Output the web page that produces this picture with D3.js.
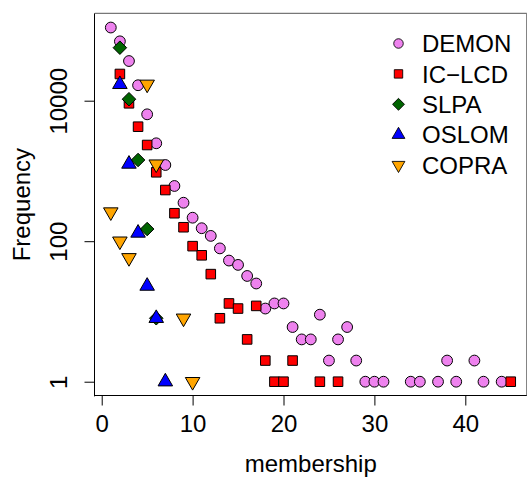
<!DOCTYPE html>
<html>
<head>
<meta charset="utf-8">
<script src="https://cdn.jsdelivr.net/npm/d3@7"></script>
<style>
  html, body { margin: 0; padding: 0; background: #fff; }
  svg { display: block; font-family: "Liberation Sans", Arial, Helvetica, sans-serif; }
</style>
</head>
<body>
<svg id="chart" width="527" height="478"></svg>
<script>
// Number of communities a node belongs to (membership) and how many nodes have it
const demonMembership = [1, 2, 3, 4, 5, 6, 7, 8, 9, 10, 11, 12, 13, 14, 15, 16, 17, 18, 19, 20,
  21, 22, 23, 24, 25, 26, 27, 28, 29, 30, 31, 34, 35, 37, 38, 39, 41, 42, 44];
const demonFreq = [110000, 70000, 36700, 16600, 6400, 2475, 1215, 611, 353, 216, 153, 119, 79, 53, 46, 32, 25, 11, 13, 13,
  6, 4, 4, 9, 2, 4, 6, 2, 1, 1, 1, 1, 1, 1, 2, 1, 2, 1, 1];

const iclcdMembership = [2, 3, 4, 5, 6, 7, 8, 9, 10, 11, 12, 13, 14, 15, 16, 17, 18, 19, 20, 21, 24, 26, 45];
const iclcdFreq = [24000, 9180, 4265, 2340, 957, 535, 250, 158, 85, 63, 34, 8, 13, 11, 4, 12, 2, 1, 1, 2, 1, 1, 1];

const slpaMembership = [2, 3, 4, 5, 6];
const slpaFreq = [56800, 10500, 1432, 149, 8];

const oslomMembership = [2, 3, 4, 5, 6, 7];
const oslomFreq = [17100, 1256, 131, 23, 8, 1];

const copraMembership = [1, 2, 3, 5, 6, 9, 10];
const copraFreq = [260, 100, 58, 17100, 1250, 8, 1];

const seriesNames = ["DEMON", "IC\u2212LCD", "SLPA", "OSLOM", "COPRA"];
const seriesColors = ["#EE82EE", "#FF0000", "#006400", "#0000FF", "#FFA500"];
const seriesShapes = ["circle", "square", "diamond", "triangleUp", "triangleDown"];

const xTicks = [0, 10, 20, 30, 40];
const yTicks = [1, 100, 10000];

const series = [
  { x: demonMembership, y: demonFreq },
  { x: iclcdMembership, y: iclcdFreq },
  { x: slpaMembership, y: slpaFreq },
  { x: oslomMembership, y: oslomFreq },
  { x: copraMembership, y: copraFreq }
].map((s, i) => ({
  name: seriesNames[i], color: seriesColors[i], shape: seriesShapes[i],
  points: s.x.map((m, j) => ({ m, f: s.y[j] }))
}));

// Plot region
const W = 527, H = 478;
const plotLeft = 94.8, plotRight = 526.75, plotTop = 13.37, plotBottom = 395.87;

// Axis limits padded by 4% like base R graphics
const allPts = series.flatMap(s => s.points);
const xExt = d3.extent(allPts, d => d.m);
const xPad = (xExt[1] - xExt[0]) * 0.04;
const lExt = d3.extent(allPts, d => Math.log10(d.f));
const lPad = (lExt[1] - lExt[0]) * 0.04;

const x = d3.scaleLinear().domain([xExt[0] - xPad, xExt[1] + xPad]).range([plotLeft, plotRight]);
const y = d3.scaleLog().domain([Math.pow(10, lExt[0] - lPad), Math.pow(10, lExt[1] + lPad)]).range([plotBottom, plotTop]);

const svg = d3.select("#chart");
svg.append("rect").attr("width", W).attr("height", H).attr("fill", "#fff");

// Marker paths (sizes follow R's pch 21-25 proportions)
const S = 14.4;
function symbolPath(shape) {
  if (shape === "circle") {
    const r = 0.375 * S;
    return `M${-r},0A${r},${r} 0 1,0 ${r},0A${r},${r} 0 1,0 ${-r},0Z`;
  }
  if (shape === "square") {
    const h = 0.375 * 0.886 * S;
    return `M${-h},${-h}H${h}V${h}H${-h}Z`;
  }
  if (shape === "diamond") {
    const d = 0.375 * 1.253 * S;
    return `M0,${-d}L${d},0L0,${d}L${-d},0Z`;
  }
  const r = 0.375 * 1.555 * S, xc = r * Math.sqrt(3) / 2, yc = r / 2;
  if (shape === "triangleUp") return `M0,${-r}L${xc},${yc}L${-xc},${yc}Z`;
  return `M0,${r}L${xc},${-yc}L${-xc},${-yc}Z`;
}

// Points, drawn series by series
series.forEach(s => {
  svg.append("g").selectAll("path").data(s.points).join("path")
    .attr("d", symbolPath(s.shape))
    .attr("transform", d => `translate(${x(d.m)},${y(d.f)})`)
    .attr("fill", s.color)
    .attr("stroke", "#000")
    .attr("stroke-width", 1);
});

// Frame
svg.append("line").attr("x1", plotLeft).attr("x2", plotRight).attr("y1", plotTop).attr("y2", plotTop)
  .attr("stroke", "#777").attr("stroke-width", 1.3);
svg.append("line").attr("x1", plotRight).attr("x2", plotRight).attr("y1", plotTop).attr("y2", plotBottom)
  .attr("stroke", "#777").attr("stroke-width", 1.3);
svg.append("line").attr("x1", 94.5).attr("x2", 94.5).attr("y1", plotTop).attr("y2", plotBottom + 0.5)
  .attr("stroke", "#000").attr("stroke-width", 1);
svg.append("line").attr("x1", 94.5).attr("x2", plotRight).attr("y1", 395.5).attr("y2", 395.5)
  .attr("stroke", "#000").attr("stroke-width", 1);

// X axis
const gx = svg.append("g").attr("transform", `translate(0,395.5)`)
  .call(d3.axisBottom(x).tickValues(xTicks).tickSize(10).tickFormat(d3.format("d")));
gx.select(".domain").remove();
gx.selectAll(".tick line").attr("stroke", "#000");
gx.selectAll(".tick text").attr("y", 36.5).attr("dy", null)
  .attr("font-size", 24).attr("fill", "#000")
  .attr("font-family", "Liberation Sans, Arial, sans-serif");

// Y axis (log), labels rotated
const gy = svg.append("g").attr("transform", `translate(94.5,0)`)
  .call(d3.axisLeft(y).tickValues(yTicks).tickSize(10).tickFormat(d3.format("d")));
gy.select(".domain").remove();
gy.selectAll(".tick line").attr("stroke", "#000");
gy.selectAll(".tick text")
  .attr("x", null).attr("dy", null)
  .attr("transform", "translate(-27.5,0) rotate(-90)")
  .attr("text-anchor", "middle")
  .attr("font-size", 24).attr("fill", "#000")
  .attr("font-family", "Liberation Sans, Arial, sans-serif");

// Axis titles
svg.append("text").attr("x", (plotLeft + plotRight) / 2).attr("y", 472)
  .attr("text-anchor", "middle").attr("font-size", 24).attr("fill", "#000")
  .text("membership");
svg.append("text")
  .attr("transform", `translate(29.5,${(plotTop + plotBottom) / 2}) rotate(-90)`)
  .attr("text-anchor", "middle").attr("font-size", 24).attr("fill", "#000")
  .text("Frequency");

// Legend
const legend = svg.append("g");
series.forEach((s, i) => {
  const ly = 43.5 + i * 30.4;
  legend.append("path")
    .attr("d", symbolPath(s.shape))
    .attr("transform", `translate(398.5,${ly}) scale(0.88)`)
    .attr("fill", s.color).attr("stroke", "#000").attr("stroke-width", 1);
  legend.append("text").attr("x", 422).attr("y", ly + 8.6)
    .attr("font-size", 24).attr("fill", "#000").text(s.name);
});
</script>
</body>
</html>
